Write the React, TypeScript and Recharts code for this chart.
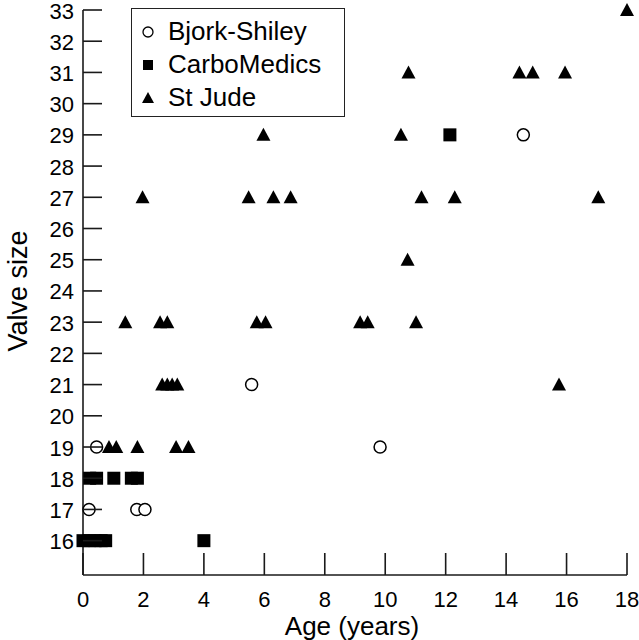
import { Legend, Scatter, ScatterChart, XAxis, YAxis } from "recharts";

// age (years) / valve size
const bjorkShiley = [
  { age: 0.2, size: 17 },
  { age: 0.45, size: 19 },
  { age: 1.78, size: 17 },
  { age: 2.05, size: 17 },
  { age: 5.58, size: 21 },
  { age: 9.83, size: 19 },
  { age: 14.57, size: 29 },
];

const carboMedics = [
  { age: 0, size: 16 },
  { age: 0.2, size: 16 },
  { age: 0.4, size: 16 },
  { age: 0.6, size: 16 },
  { age: 0.75, size: 16 },
  { age: 4.0, size: 16 },
  { age: 0.22, size: 18 },
  { age: 0.45, size: 18 },
  { age: 1.02, size: 18 },
  { age: 1.6, size: 18 },
  { age: 1.8, size: 18 },
  { age: 12.14, size: 29 },
];

const stJude = [
  { age: 0.86, size: 19 },
  { age: 1.1, size: 19 },
  { age: 1.8, size: 19 },
  { age: 3.08, size: 19 },
  { age: 3.49, size: 19 },
  { age: 2.62, size: 21 },
  { age: 2.79, size: 21 },
  { age: 2.95, size: 21 },
  { age: 3.12, size: 21 },
  { age: 15.75, size: 21 },
  { age: 1.4, size: 23 },
  { age: 2.55, size: 23 },
  { age: 2.79, size: 23 },
  { age: 5.75, size: 23 },
  { age: 6.04, size: 23 },
  { age: 9.17, size: 23 },
  { age: 9.42, size: 23 },
  { age: 11.02, size: 23 },
  { age: 10.74, size: 25 },
  { age: 1.97, size: 27 },
  { age: 5.48, size: 27 },
  { age: 6.3, size: 27 },
  { age: 6.87, size: 27 },
  { age: 11.2, size: 27 },
  { age: 12.3, size: 27 },
  { age: 17.05, size: 27 },
  { age: 5.97, size: 29 },
  { age: 10.52, size: 29 },
  { age: 10.77, size: 31 },
  { age: 14.44, size: 31 },
  { age: 14.88, size: 31 },
  { age: 15.95, size: 31 },
  { age: 18, size: 33 },
];

const xTicks = [0, 2, 4, 6, 8, 10, 12, 14, 16, 18];
const yTicks = [16, 17, 18, 19, 20, 21, 22, 23, 24, 25, 26, 27, 28, 29, 30, 31, 32, 33];
const seriesNames = ["Bjork-Shiley", "CarboMedics", "St Jude"];

const FONT = '"Liberation Sans", Arial, Helvetica, sans-serif';
const AXIS = "#1a1a1a";

const Circle = ({ cx, cy }: any) => (
  <circle cx={cx} cy={cy} r={6} fill="#fff" stroke="#000" strokeWidth={1.5} />
);
const Square = ({ cx, cy }: any) => (
  <rect x={cx - 6.5} y={cy - 6.5} width={13} height={13} fill="#000" />
);
const Triangle = ({ cx, cy }: any) => (
  <polygon
    points={`${cx},${cy - 7} ${cx - 7},${cy + 6} ${cx + 7},${cy + 6}`}
    fill="#000"
  />
);

// ticks point into the plot, labels sit outside
const XTick = ({ x, y, payload }: any) => (
  <g>
    <rect x={x - 0.8} y={y - 22} width={1.6} height={22} fill={AXIS} />
    <text
      x={x}
      y={y + 32}
      textAnchor="middle"
      fontSize={22}
      fontFamily={FONT}
      fill="#000"
    >
      {payload.value}
    </text>
  </g>
);

const YTick = ({ x, y, payload }: any) => (
  <g>
    <rect x={x} y={y - 0.8} width={19} height={1.6} fill={AXIS} />
    <text
      x={x - 9}
      y={y + 8.5}
      textAnchor="end"
      fontSize={22}
      fontFamily={FONT}
      fill="#000"
    >
      {payload.value}
    </text>
  </g>
);

function LegendSymbol({ kind }: { kind: number }) {
  return (
    <svg width={24} height={24} style={{ display: "block" }}>
      {kind === 0 && (
        <circle cx={12} cy={12} r={5} fill="#fff" stroke="#000" strokeWidth={1.3} />
      )}
      {kind === 1 && <rect x={7} y={7} width={10} height={10} fill="#000" />}
      {kind === 2 && <polygon points="12,6 6,17 18,17" fill="#000" />}
    </svg>
  );
}

function LegendBox() {
  return (
    <div
      style={{
        boxSizing: "border-box",
        width: 214,
        height: 109,
        border: "1.5px solid #222",
        background: "#fff",
        paddingTop: 6,
        fontFamily: FONT,
        fontSize: 26,
        color: "#000",
      }}
    >
      {seriesNames.map((name, i) => (
        <div
          key={name}
          style={{ display: "flex", alignItems: "center", height: 33 }}
        >
          <div style={{ marginLeft: 4 }}>
            <LegendSymbol kind={i} />
          </div>
          <span style={{ marginLeft: 8, lineHeight: "33px" }}>{name}</span>
        </div>
      ))}
    </div>
  );
}

export default function App() {
  return (
    <div style={{ position: "absolute", left: 0, top: 0, background: "#fff" }}>
      <ScatterChart
        width={639}
        height={640}
        margin={{ top: 10, right: 12, bottom: 25, left: 23 }}
      >
        <XAxis
          type="number"
          dataKey="age"
          domain={[0, 18]}
          ticks={xTicks}
          interval={0}
          tickLine={false}
          tickSize={0}
          tickMargin={0}
          tick={XTick}
          height={40}
          stroke={AXIS}
          strokeWidth={1.6}
          label={{
            content: ({ viewBox }: any) => (
              <text
                x={viewBox.x + viewBox.width / 2 - 3}
                y={635}
                textAnchor="middle"
                fontSize={26}
                fontFamily={FONT}
                fill="#000"
              >
                Age (years)
              </text>
            ),
          }}
        />
        <YAxis
          type="number"
          dataKey="size"
          domain={[14.9, 33]}
          ticks={yTicks}
          interval={0}
          width={60}
          tickLine={false}
          tickSize={0}
          tickMargin={0}
          tick={YTick}
          stroke={AXIS}
          strokeWidth={1.6}
          label={{
            content: () => (
              <text
                x={18}
                y={291}
                transform="rotate(-90 18 291)"
                textAnchor="middle"
                dominantBaseline="central"
                fontSize={27}
                fontFamily={FONT}
                fill="#000"
              >
                Valve size
              </text>
            ),
          }}
        />
        <Legend
          layout="vertical"
          align="center"
          verticalAlign="middle"
          wrapperStyle={{ left: 131, top: 8, width: 214 }}
          content={() => <LegendBox />}
        />
        <Scatter
          name="Bjork-Shiley"
          data={bjorkShiley}
          shape={Circle}
          isAnimationActive={false}
        />
        <Scatter
          name="CarboMedics"
          data={carboMedics}
          shape={Square}
          isAnimationActive={false}
        />
        <Scatter
          name="St Jude"
          data={stJude}
          shape={Triangle}
          isAnimationActive={false}
        />
      </ScatterChart>
    </div>
  );
}
